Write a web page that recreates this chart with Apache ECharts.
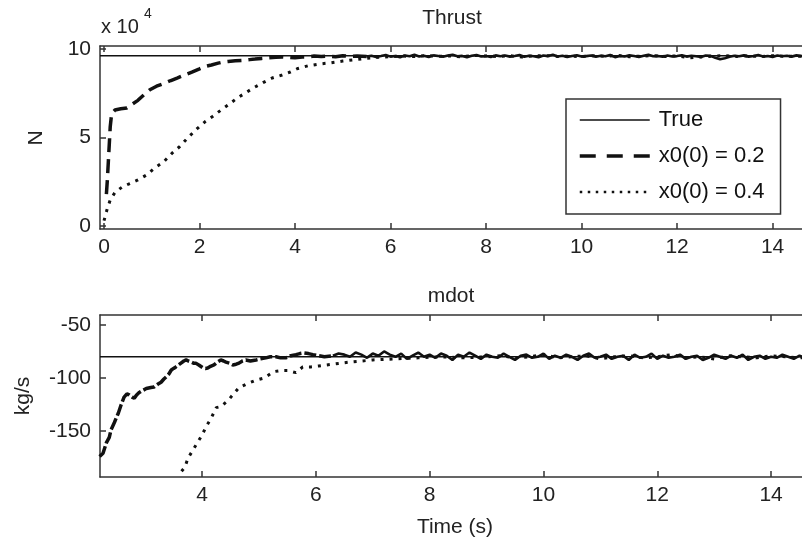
<!DOCTYPE html>
<html>
<head>
<meta charset="utf-8">
<script src="https://cdn.jsdelivr.net/npm/echarts@6/dist/echarts.min.js"></script>
<style>
  html, body { margin: 0; padding: 0; background: #fff; }
  #main { width: 802px; height: 544px; }
</style>
</head>
<body>
<div id="main"></div>
<script>
// ---- Thrust (x 10^4 N) ----
var thrustTrue = 9.62;
var thrustTicks = [0, 2, 4, 6, 8, 10, 12, 14];
var thrustYTicks = [0, 5, 10];

// x0(0) = 0.2, start-up part
var thrustDashT = [0.05, 0.07, 0.09, 0.11, 0.13, 0.16, 0.23, 0.35, 0.48, 0.6, 0.71, 0.85, 0.96, 1.1, 1.28, 1.4, 1.53, 1.7, 1.84, 2.0,
  2.1, 2.25, 2.39, 2.5, 2.6, 2.75, 2.9, 3.05, 3.16, 3.3, 3.43, 3.6, 3.73, 3.85, 4.0, 4.15, 4.27, 4.4, 4.55, 4.7, 4.85, 5.0, 5.15, 5.3, 5.5];
var thrustDashY = [1.8, 2.6, 3.6, 4.6, 5.6, 6.35, 6.55, 6.62, 6.67, 6.9, 7.1, 7.45, 7.7, 7.9, 8.08, 8.22, 8.36, 8.55, 8.7, 8.88,
  9.0, 9.1, 9.2, 9.27, 9.3, 9.33, 9.35, 9.4, 9.43, 9.47, 9.5, 9.53, 9.55, 9.53, 9.5, 9.55, 9.55, 9.6, 9.58, 9.6, 9.56, 9.62, 9.58, 9.6, 9.58];
// x0(0) = 0.2, settled part, every 0.1 s from 5.5 s
var thrustDashSteadyStart = 5.5;
var thrustDashSteady = [
  9.58, 9.62, 9.55, 9.60, 9.66, 9.57, 9.61, 9.54, 9.63, 9.59,
  9.67, 9.58, 9.62, 9.55, 9.64, 9.60, 9.56, 9.63, 9.68, 9.59,
  9.61, 9.54, 9.62, 9.66, 9.58, 9.60, 9.55, 9.64, 9.59, 9.63,
  9.57, 9.61, 9.66, 9.56, 9.62, 9.59, 9.54, 9.63, 9.60, 9.67,
  9.58, 9.62, 9.55, 9.61, 9.65, 9.57, 9.60, 9.63, 9.56, 9.62,
  9.59, 9.66, 9.54, 9.61, 9.58, 9.64, 9.60, 9.55, 9.62, 9.67,
  9.59, 9.61, 9.56, 9.63, 9.58, 9.60, 9.65, 9.57, 9.62, 9.59,
  9.55, 9.63, 9.61, 9.50, 9.42, 9.48, 9.56, 9.62, 9.59, 9.64,
  9.57, 9.61, 9.66, 9.58, 9.60, 9.55, 9.63, 9.59, 9.62, 9.57,
  9.64, 9.60, 9.58];

// x0(0) = 0.4
var thrustDotT = [0, 0.06, 0.13, 0.23, 0.38, 0.54, 0.71, 0.9, 1.07, 1.24, 1.42, 1.59, 1.76, 1.95, 2.12, 2.28, 2.45, 2.6, 2.79, 2.95,
  3.16, 3.33, 3.52, 3.73, 3.9, 4.06, 4.27, 4.5, 4.75, 5.0, 5.25, 5.5, 5.75, 6.0,
  6.25, 6.5, 6.75, 7.0, 7.25, 7.5, 7.75, 8.0, 8.25, 8.5, 8.75, 9.0, 9.25, 9.5, 9.75, 10.0, 10.25, 10.5, 10.75, 11.0,
  11.25, 11.5, 11.75, 12.0, 12.25, 12.5, 12.75, 13.0, 13.25, 13.5, 13.75, 14.0, 14.25, 14.5, 14.75];
var thrustDotY = [0.3, 0.9, 1.47, 1.9, 2.2, 2.4, 2.6, 2.9, 3.3, 3.6, 4.1, 4.5, 5.0, 5.5, 5.9, 6.2, 6.55, 6.84, 7.23, 7.5,
  7.85, 8.1, 8.36, 8.53, 8.7, 8.9, 9.05, 9.15, 9.22, 9.32, 9.4, 9.47, 9.53, 9.57,
  9.6, 9.57, 9.63, 9.59, 9.61, 9.56, 9.64, 9.6, 9.58, 9.62, 9.55, 9.61, 9.63, 9.58, 9.6, 9.57, 9.62, 9.59, 9.64, 9.56,
  9.6, 9.62, 9.58, 9.61, 9.5, 9.55, 9.6, 9.63, 9.58, 9.61, 9.57, 9.62, 9.59, 9.6, 9.58];

// ---- mdot (kg/s) ----
var mdotTrue = -80;
var mdotTicks = [4, 6, 8, 10, 12, 14];
var mdotYTicks = [-150, -100, -50];

var mdotDashT = [2.2, 2.26, 2.32, 2.37, 2.4, 2.46, 2.53, 2.58, 2.63, 2.68, 2.72, 2.77, 2.81, 2.85, 2.89, 2.95, 3.02, 3.1, 3.16, 3.22,
  3.28, 3.33, 3.37, 3.42, 3.46, 3.5, 3.54, 3.58, 3.63, 3.68, 3.72, 3.76, 3.81, 3.85, 3.89, 3.95, 4.02, 4.06, 4.1, 4.15,
  4.21, 4.27, 4.33, 4.38, 4.42, 4.48, 4.54, 4.6, 4.65, 4.71, 4.77, 4.85, 4.95, 5.03, 5.12, 5.2, 5.3, 5.38, 5.47, 5.56,
  5.65, 5.72, 5.79, 5.87, 5.95, 6.05, 6.15, 6.3];
var mdotDashY = [-174, -171, -161, -156, -149, -142, -133, -125, -118, -115, -116, -118, -119, -116, -114, -112, -110, -109, -108.5, -106,
  -104, -101, -99, -96, -92.5, -91, -89.6, -88, -86, -84, -83, -84, -85, -86, -86, -88, -90.6, -91, -90.6, -89,
  -87.7, -85, -83, -84, -85, -86, -87.7, -87, -86, -84, -83, -84, -83, -82, -81, -80, -80, -81, -81, -79,
  -78, -77, -76.4, -77, -78, -79, -80, -79];
// settled part, every 0.1 s from 6.3 s
var mdotDashSteadyStart = 6.3;
var mdotDashSteady = [
  -79, -77, -78, -80, -76, -78, -81, -77, -79, -75,
  -78, -80, -77, -82, -79, -76, -80, -78, -81, -77,
  -79, -83, -78, -80, -76, -79, -82, -78, -80, -81,
  -77, -80, -83, -79, -78, -81, -80, -77, -82, -79,
  -81, -78, -80, -83, -79, -77, -81, -80, -78, -82,
  -80, -79, -83, -78, -81, -80, -77, -82, -79, -81,
  -80, -78, -82, -80, -79, -83, -81, -78, -80, -82,
  -79, -81, -78, -83, -80, -79, -82, -80, -81, -78,
  -80, -82, -79, -81, -80];

var mdotDotT = [3.64, 3.7, 3.75, 3.84, 3.93, 4.0, 4.07, 4.16, 4.25, 4.33, 4.46, 4.54, 4.65, 4.81, 4.95, 5.09, 5.26, 5.38, 5.51, 5.65,
  5.77, 5.91, 6.05, 6.3, 6.6, 7.0, 7.4, 7.8, 8.2, 8.6,
  9.0, 9.25, 9.5, 9.75, 10.0, 10.25, 10.5, 10.75, 11.0, 11.25, 11.5, 11.75, 12.0, 12.25, 12.5, 12.75, 13.0, 13.25,
  13.5, 13.75, 14.0, 14.25, 14.5, 14.75];
var mdotDotY = [-188, -184, -176, -168, -160, -154, -146, -138, -128, -127, -121, -116, -109, -105, -102, -100, -94, -93, -93, -95,
  -89.6, -89.6, -88.7, -87, -85, -83, -82, -81, -80, -81,
  -80, -79, -81, -80, -78, -81, -80, -79, -82, -80, -79, -81, -80, -78, -81, -80, -82, -79,
  -80, -81, -79, -80, -81, -80];

var fontFamily = 'Liberation Sans, Arial, sans-serif';
var ink = '#111';
var dashStyle = { color: ink, width: 3.5, type: [14, 7], cap: 'butt' };
var dotStyle = { color: ink, width: 3, type: [3, 6], cap: 'butt' };

function pairs(t, y) {
  var out = [];
  for (var i = 0; i < t.length; i++) out.push([t[i], y[i]]);
  return out;
}
function steadyPairs(start, step, y) {
  var out = [];
  for (var i = 0; i < y.length; i++) out.push([+(start + i * step).toFixed(2), y[i]]);
  return out;
}

function xAxisPair(grid, min, max, ticks) {
  var line = { onZero: false, lineStyle: { color: '#333', width: 1.5 } };
  return [{
    gridIndex: grid, type: 'value', position: 'bottom', min: min, max: max,
    axisLine: line,
    axisTick: { inside: true, length: 6, customValues: ticks, lineStyle: { color: '#333', width: 1.5 } },
    axisLabel: { customValues: ticks, fontSize: 21, color: '#222', fontFamily: fontFamily, margin: 8 },
    splitLine: { show: false }
  }, {
    gridIndex: grid, type: 'value', position: 'top', min: min, max: max,
    axisLine: line,
    axisTick: { inside: true, length: 6, customValues: ticks, lineStyle: { color: '#333', width: 1.5 } },
    axisLabel: { show: false },
    splitLine: { show: false }
  }];
}

function yAxis(grid, min, max, ticks) {
  return {
    gridIndex: grid, type: 'value', position: 'left', min: min, max: max,
    axisLine: { show: true, onZero: false, lineStyle: { color: '#333', width: 1.5 } },
    axisTick: { show: true, inside: true, length: 6, customValues: ticks, lineStyle: { color: '#333', width: 1.5 } },
    axisLabel: { customValues: ticks, fontSize: 21, color: '#222', fontFamily: fontFamily, margin: 9 },
    splitLine: { show: false }
  };
}

function trueLine(xi, yi, v, xmin, xmax, name) {
  return {
    name: name, type: 'line', xAxisIndex: xi, yAxisIndex: yi,
    data: [[xmin, v], [xmax, v]], symbol: 'none', color: ink,
    lineStyle: { color: ink, width: 1.5, type: 'solid' }, z: 2
  };
}

var topMin = -0.084, topMax = 14.70;
var botMin = 2.207, botMax = 14.614;

var option = {
  animation: false,
  backgroundColor: '#fff',
  color: [ink],
  textStyle: { fontFamily: fontFamily },
  grid: [
    { left: 100, top: 46, right: -4, height: 183, containLabel: false, outerBoundsMode: 'none' },
    { left: 100, top: 315, right: -4, height: 162, containLabel: false, outerBoundsMode: 'none' }
  ],
  xAxis: xAxisPair(0, topMin, topMax, thrustTicks).concat(xAxisPair(1, botMin, botMax, mdotTicks)),
  yAxis: [yAxis(0, -0.17, 10.17, thrustYTicks), yAxis(1, -193.4, -40.6, mdotYTicks)],
  legend: {
    orient: 'vertical',
    left: 566, top: 99,
    padding: [10, 16, 11, 12],
    itemWidth: 70, itemHeight: 20, itemGap: 14,
    borderColor: '#333', borderWidth: 1.5, borderRadius: 0,
    backgroundColor: '#fff',
    itemStyle: { opacity: 0 },
    textStyle: { fontSize: 22, color: '#111', fontFamily: fontFamily, padding: [0, 0, 0, 4] },
    data: [
      { name: 'True', lineStyle: { color: ink, width: 1.5, type: 'solid' } },
      { name: 'x0(0) = 0.2', lineStyle: { color: ink, width: 3.5, type: [16, 11], cap: 'butt' } },
      { name: 'x0(0) = 0.4', lineStyle: { color: ink, width: 2.5, type: [2.5, 5.5], cap: 'butt' } }
    ],
    selectedMode: false
  },
  graphic: [
    { type: 'text', left: 101, top: 17, style: { text: 'x 10', font: '20px ' + fontFamily, fill: '#222' } },
    { type: 'text', left: 144, top: 7, style: { text: '4', font: '14px ' + fontFamily, fill: '#222' } },
    { type: 'text', x: 452, y: 18, style: { text: 'Thrust', font: '21px ' + fontFamily, fill: '#222', align: 'center', verticalAlign: 'middle' } },
    { type: 'text', x: 451, y: 296, style: { text: 'mdot', font: '21px ' + fontFamily, fill: '#222', align: 'center', verticalAlign: 'middle' } },
    { type: 'text', x: 455, y: 527, style: { text: 'Time (s)', font: '21px ' + fontFamily, fill: '#222', align: 'center', verticalAlign: 'middle' } },
    { type: 'text', x: 36, y: 138, rotation: Math.PI / 2, style: { text: 'N', font: '21px ' + fontFamily, fill: '#222', align: 'center', verticalAlign: 'middle' } },
    { type: 'text', x: 23, y: 396, rotation: Math.PI / 2, style: { text: 'kg/s', font: '21px ' + fontFamily, fill: '#222', align: 'center', verticalAlign: 'middle' } }
  ],
  series: []
};

// Thrust
option.series.push(trueLine(0, 0, thrustTrue, topMin, topMax, 'True'));
option.series.push({
  name: 'x0(0) = 0.4', type: 'line', xAxisIndex: 0, yAxisIndex: 0, symbol: 'none', color: ink,
  data: pairs(thrustDotT, thrustDotY),
  lineStyle: dotStyle, z: 3
});
option.series.push({
  name: 'x0(0) = 0.2', type: 'line', xAxisIndex: 0, yAxisIndex: 0, symbol: 'none', color: ink,
  data: pairs(thrustDashT, thrustDashY),
  lineStyle: dashStyle, z: 4
});
option.series.push({
  name: 'thrust settled', type: 'line', xAxisIndex: 0, yAxisIndex: 0, symbol: 'none', color: ink,
  data: steadyPairs(thrustDashSteadyStart, 0.1, thrustDashSteady),
  lineStyle: { color: ink, width: 2.6 }, z: 4
});

// mdot
option.series.push(trueLine(2, 1, mdotTrue, botMin, botMax, 'True'));
option.series.push({
  name: 'x0(0) = 0.4', type: 'line', xAxisIndex: 2, yAxisIndex: 1, symbol: 'none', color: ink,
  data: pairs(mdotDotT, mdotDotY),
  lineStyle: dotStyle, z: 3
});
option.series.push({
  name: 'x0(0) = 0.2', type: 'line', xAxisIndex: 2, yAxisIndex: 1, symbol: 'none', color: ink,
  data: pairs(mdotDashT, mdotDashY),
  lineStyle: { color: ink, width: 3.5, type: [12, 3], cap: 'butt' }, z: 4
});
option.series.push({
  name: 'mdot settled', type: 'line', xAxisIndex: 2, yAxisIndex: 1, symbol: 'none', color: ink,
  data: steadyPairs(mdotDashSteadyStart, 0.1, mdotDashSteady),
  lineStyle: { color: ink, width: 2.6 }, z: 4
});

var mychart = echarts.init(document.getElementById('main'), null, { renderer: 'canvas' });
mychart.setOption(option);
</script>
</body>
</html>
